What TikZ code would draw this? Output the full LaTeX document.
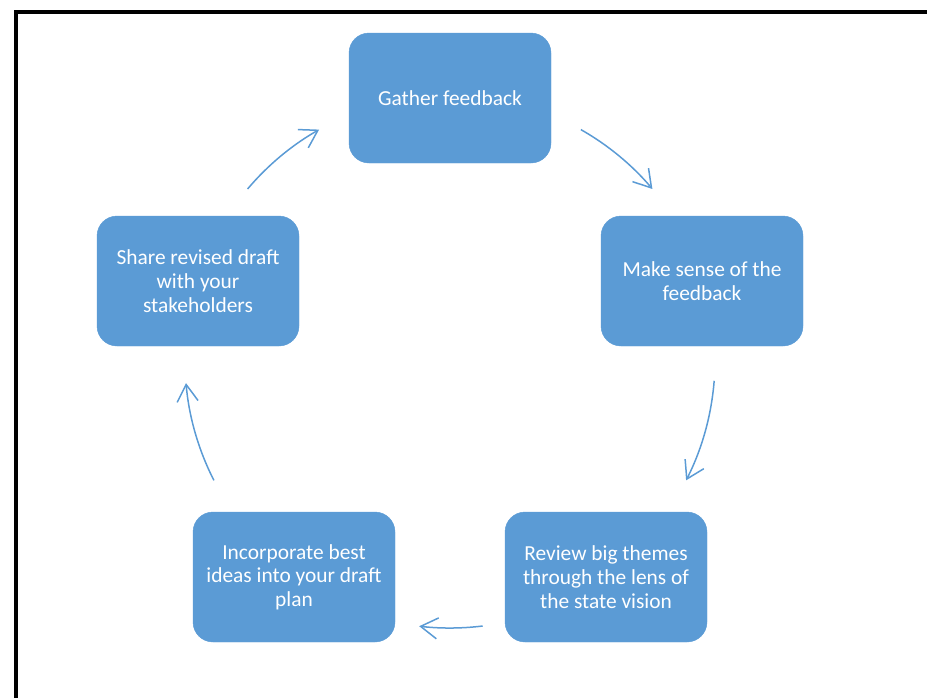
\documentclass[tikz,border=0pt]{standalone}
\usepackage{fontspec}
\setmainfont{Carlito}
\usetikzlibrary{arrows.meta}
\definecolor{boxblue}{HTML}{5B9BD5}
\begin{document}
\begin{tikzpicture}[x=1pt,y=-1pt,
  stepbox/.style={draw=boxblue,fill=boxblue,rounded corners=20pt,minimum width=202pt,minimum height=130pt,
    text=white,align=center,inner sep=4pt,font=\fontsize{21.4}{23.7}\selectfont},
  cyc/.style={draw=boxblue,line width=1.5pt,-{Straight Barb[length=17pt,width=21pt,line width=1.5pt]}}]
\useasboundingbox (0,0) rectangle (927,697);
\draw[line width=4pt,line cap=rect] (16,697) -- (16,12) -- (927,12);
\node[stepbox] (g) at (450,98) {Gather feedback};
\node[stepbox] (m) at (702,281) {Make sense of the\\feedback};
\node[stepbox] (r) at (606,577) {Review big themes\\through the lens of\\the state vision};
\node[stepbox] (i) at (294,577) {Incorporate best\\ideas into your draft\\plan};
\node[stepbox] (s) at (198,281) {Share revised draft\\with your\\stakeholders};
\coordinate (c) at (450,360);
\path (c) ++(220.2:265) coordinate (a1);
\path (c) ++(299.6:265) coordinate (a2);
\path (c) ++(4.5:265) coordinate (a3);
\path (c) ++(83:268) coordinate (a4);
\path (c) ++(153:265) coordinate (a5);
\draw[cyc] (a1) arc[start angle=220.2,end angle=240.4,radius=265];
\draw[cyc] (a2) arc[start angle=299.6,end angle=319.8,radius=265];
\draw[cyc] (a3) arc[start angle=4.5,end angle=27,radius=265];
\draw[cyc] (a4) arc[start angle=83,end angle=96.6,radius=268];
\draw[cyc] (a5) arc[start angle=153,end angle=175,radius=265];
\end{tikzpicture}
\end{document}
